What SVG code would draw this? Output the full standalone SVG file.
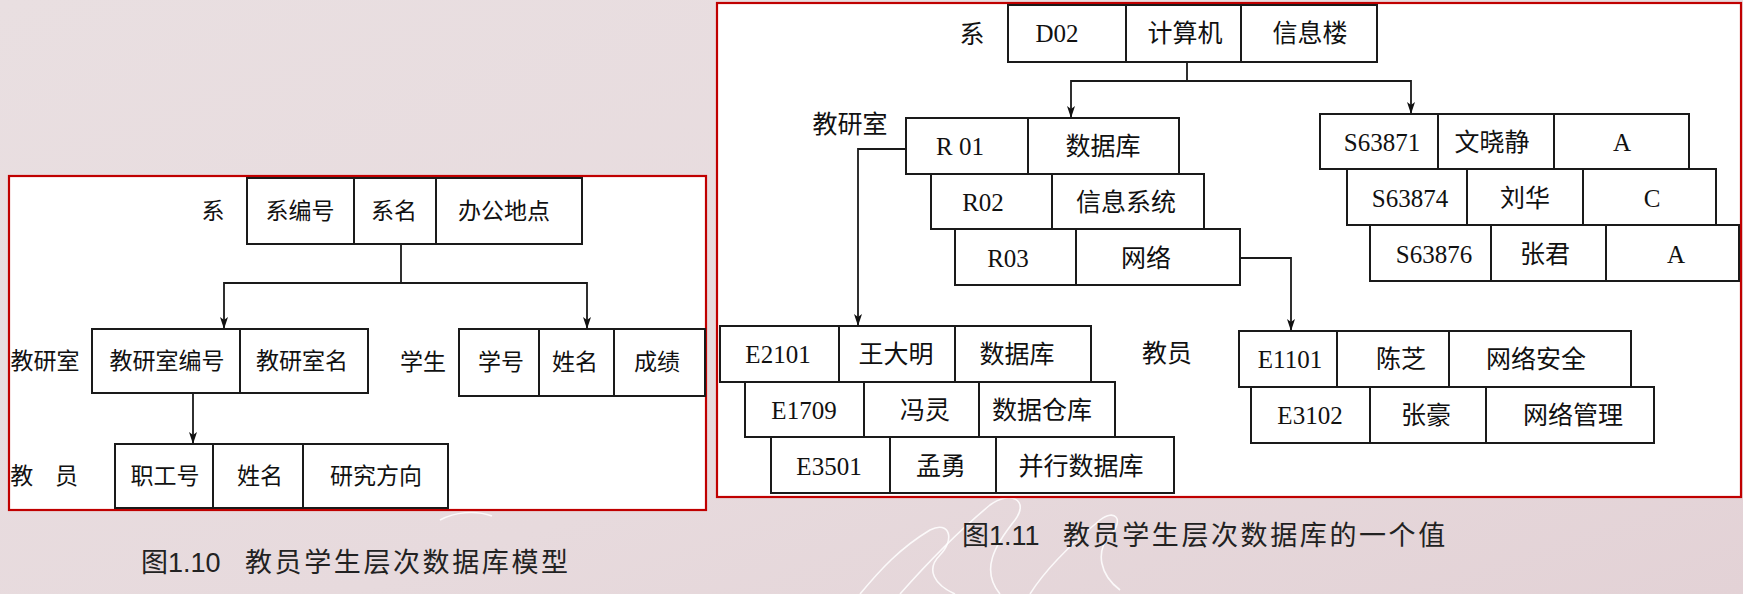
<svg xmlns="http://www.w3.org/2000/svg" width="1743" height="594" viewBox="0 0 1743 594">
<defs>
<linearGradient id="bg" x1="0" y1="0" x2="1" y2="1">
<stop offset="0" stop-color="#e9dfe1"/>
<stop offset="0.6" stop-color="#e7dadd"/>
<stop offset="1" stop-color="#e3d2d6"/>
</linearGradient>
<marker id="arr" markerUnits="userSpaceOnUse" markerWidth="12" markerHeight="8" refX="12" refY="4" orient="auto">
<path d="M0,0 L12,4 L0,8 L3,4 z" fill="#111"/>
</marker>
<style>
.frame{fill:#fff;stroke:#c00000;stroke-width:2.2}
.cell{fill:#fff;stroke:#1a1a1a;stroke-width:2}
.con{fill:none;stroke:#1a1a1a;stroke-width:1.8}
.t{font-family:"Liberation Serif","Noto Sans CJK SC",serif;fill:#111;text-anchor:middle}
.l{font-size:23px}
.r{font-size:25px}
.cap{font-family:"Liberation Sans","Noto Sans CJK SC",sans-serif;font-size:27px;fill:#222}
.wm{fill:none;stroke:#fff;stroke-width:1.6;opacity:0.85}
</style>
</defs>
<rect x="0" y="0" width="1743" height="594" fill="url(#bg)"/>
<g id="watermark">
<path class="wm" d="M900,594 C930,560 960,530 990,505 C1010,490 1030,500 1015,520 C995,545 980,570 1000,594"/>
<path class="wm" d="M860,594 C880,570 900,548 930,530 C950,520 955,540 940,555 C925,570 935,585 955,594"/>
<path class="wm" d="M1030,594 C1045,570 1070,545 1100,520 C1115,508 1125,520 1110,535 C1095,552 1100,575 1120,590"/>
<path class="wm" d="M440,520 C455,512 475,510 492,516"/>
</g>
<rect class="frame" x="9" y="176" width="697" height="334"/>
<rect class="frame" x="717" y="3" width="1024" height="494"/>

<g id="connectors">
<path class="con" d="M401,244 V283 H224 V329" marker-end="url(#arr)"/>
<path class="con" d="M401,283 H587 V329" marker-end="url(#arr)"/>
<path class="con" d="M193,393 V444" marker-end="url(#arr)"/>
<path class="con" d="M1187,62 V81 H1071 V118" marker-end="url(#arr)"/>
<path class="con" d="M1187,81 H1411 V114" marker-end="url(#arr)"/>
<path class="con" d="M906,149 H858 V326" marker-end="url(#arr)"/>
<path class="con" d="M1240,258 H1291 V331" marker-end="url(#arr)"/>
</g>

<g id="l-xi">
<rect class="cell" x="247" y="178" width="107" height="66"/>
<rect class="cell" x="354" y="178" width="82" height="66"/>
<rect class="cell" x="436" y="178" width="146" height="66"/>
<text class="t l" x="213" y="219">系</text>
<text class="t l" x="300" y="219">系编号</text>
<text class="t l" x="394" y="219">系名</text>
<text class="t l" x="504" y="219">办公地点</text>
</g>
<g id="l-jys">
<rect class="cell" x="92" y="329" width="148" height="64"/>
<rect class="cell" x="240" y="329" width="128" height="64"/>
<text class="t l" x="45" y="369">教研室</text>
<text class="t l" x="167" y="369">教研室编号</text>
<text class="t l" x="302" y="369">教研室名</text>
</g>
<g id="l-xs">
<rect class="cell" x="459" y="329" width="80" height="67"/>
<rect class="cell" x="539" y="329" width="75" height="67"/>
<rect class="cell" x="614" y="329" width="91" height="67"/>
<text class="t l" x="423" y="370">学生</text>
<text class="t l" x="501" y="370">学号</text>
<text class="t l" x="575" y="370">姓名</text>
<text class="t l" x="657" y="370">成绩</text>
</g>
<g id="l-jy">
<rect class="cell" x="115" y="444" width="98" height="64"/>
<rect class="cell" x="213" y="444" width="90" height="64"/>
<rect class="cell" x="303" y="444" width="145" height="64"/>
<text class="t l" x="44" y="484" word-spacing="16">教 员</text>
<text class="t l" x="165" y="484">职工号</text>
<text class="t l" x="260" y="484">姓名</text>
<text class="t l" x="376" y="484">研究方向</text>
</g>

<g id="r-xi">
<rect class="cell" x="1008" y="5" width="118" height="57"/>
<rect class="cell" x="1126" y="5" width="115" height="57"/>
<rect class="cell" x="1241" y="5" width="136" height="57"/>
<text class="t r" x="972" y="43">系</text>
<text class="t r" x="1057" y="42">D02</text>
<text class="t r" x="1185" y="42">计算机</text>
<text class="t r" x="1310" y="42">信息楼</text>
</g>
<g id="r-jys">
<text class="t r" x="850" y="133">教研室</text>
<rect class="cell" x="906" y="118" width="122" height="56"/>
<rect class="cell" x="1028" y="118" width="151" height="56"/>
<text class="t r" x="960" y="155">R 01</text>
<text class="t r" x="1103" y="155">数据库</text>
<rect class="cell" x="931" y="174" width="121" height="55"/>
<rect class="cell" x="1052" y="174" width="152" height="55"/>
<text class="t r" x="983" y="211">R02</text>
<text class="t r" x="1126" y="211">信息系统</text>
<rect class="cell" x="955" y="229" width="121" height="56"/>
<rect class="cell" x="1076" y="229" width="164" height="56"/>
<text class="t r" x="1008" y="267">R03</text>
<text class="t r" x="1146" y="267">网络</text>
</g>
<g id="r-xs">
<rect class="cell" x="1320" y="114" width="118" height="55"/>
<rect class="cell" x="1438" y="114" width="116" height="55"/>
<rect class="cell" x="1554" y="114" width="135" height="55"/>
<text class="t r" x="1382" y="151">S63871</text>
<text class="t r" x="1492" y="151">文晓静</text>
<text class="t r" x="1622" y="151">A</text>
<rect class="cell" x="1347" y="169" width="120" height="56"/>
<rect class="cell" x="1467" y="169" width="116" height="56"/>
<rect class="cell" x="1583" y="169" width="133" height="56"/>
<text class="t r" x="1410" y="207">S63874</text>
<text class="t r" x="1525" y="207">刘华</text>
<text class="t r" x="1652" y="207">C</text>
<rect class="cell" x="1370" y="225" width="121" height="56"/>
<rect class="cell" x="1491" y="225" width="115" height="56"/>
<rect class="cell" x="1606" y="225" width="133" height="56"/>
<text class="t r" x="1434" y="263">S63876</text>
<text class="t r" x="1545" y="263">张君</text>
<text class="t r" x="1676" y="263">A</text>
</g>
<g id="r-jy1">
<rect class="cell" x="720" y="326" width="119" height="56"/>
<rect class="cell" x="839" y="326" width="116" height="56"/>
<rect class="cell" x="955" y="326" width="136" height="56"/>
<text class="t r" x="778" y="363">E2101</text>
<text class="t r" x="896" y="363">王大明</text>
<text class="t r" x="1017" y="363">数据库</text>
<rect class="cell" x="745" y="382" width="119" height="55"/>
<rect class="cell" x="864" y="382" width="115" height="55"/>
<rect class="cell" x="979" y="382" width="136" height="55"/>
<text class="t r" x="804" y="419">E1709</text>
<text class="t r" x="925" y="419">冯灵</text>
<text class="t r" x="1042" y="419">数据仓库</text>
<rect class="cell" x="771" y="437" width="119" height="56"/>
<rect class="cell" x="890" y="437" width="106" height="56"/>
<rect class="cell" x="996" y="437" width="178" height="56"/>
<text class="t r" x="829" y="475">E3501</text>
<text class="t r" x="941" y="475">孟勇</text>
<text class="t r" x="1081" y="475">并行数据库</text>
</g>
<g id="r-jy2">
<text class="t r" x="1167" y="362">教员</text>
<rect class="cell" x="1239" y="331" width="98" height="56"/>
<rect class="cell" x="1337" y="331" width="112" height="56"/>
<rect class="cell" x="1449" y="331" width="182" height="56"/>
<text class="t r" x="1290" y="368">E1101</text>
<text class="t r" x="1401" y="368">陈芝</text>
<text class="t r" x="1536" y="368">网络安全</text>
<rect class="cell" x="1251" y="387" width="119" height="56"/>
<rect class="cell" x="1370" y="387" width="116" height="56"/>
<rect class="cell" x="1486" y="387" width="168" height="56"/>
<text class="t r" x="1310" y="424">E3102</text>
<text class="t r" x="1426" y="424">张豪</text>
<text class="t r" x="1573" y="424">网络管理</text>
</g>

<g id="captions">
<text class="cap" x="141" y="572">图1.10<tspan x="245" letter-spacing="2.6">教员学生层次数据库模型</tspan></text>
<text class="cap" x="962" y="545">图1.11<tspan x="1063" letter-spacing="2.6">教员学生层次数据库的一个值</tspan></text>
</g>
</svg>
